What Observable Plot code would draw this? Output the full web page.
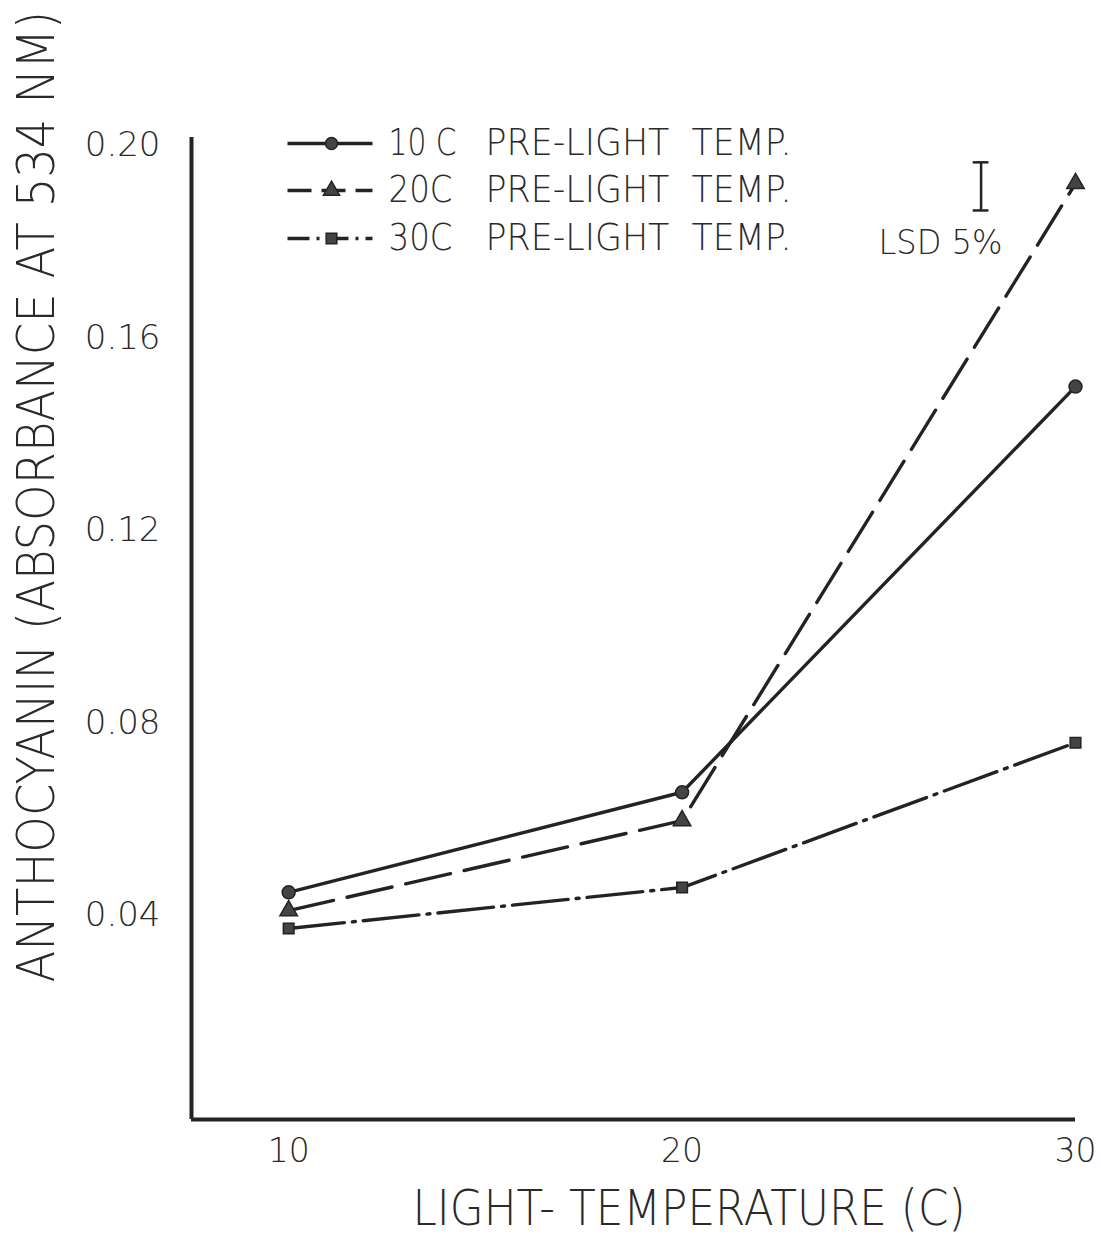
<!DOCTYPE html>
<html>
<head>
<meta charset="utf-8">
<script src="https://cdn.jsdelivr.net/npm/d3@7"></script>
<script src="https://cdn.jsdelivr.net/npm/@observablehq/plot@0.6"></script>
<style>
  html, body { margin: 0; padding: 0; background: #fff; }
  #chart svg { display: block; }
</style>
</head>
<body>
<div id="chart"></div>
<script>
// ---- data ----
const lightTemps = [10, 20, 30];
const seriesNames = ["10 C", "20C", "30C"];
const pre10 = [0.0448, 0.0656, 0.1499];
const pre20 = [0.0410, 0.0597, 0.1921];
const pre30 = [0.0373, 0.0458, 0.0759];
const yTickValues = [0.04, 0.08, 0.12, 0.16, 0.20];
const yTickLabels = ["0.04", "0.08", "0.12", "0.16", "0.20"];
const xTickValues = [10, 20, 30];
const lsdLabel = "LSD 5%";
const lsdValue = 0.010;        // length of LSD bar
const lsdTop = 0.1965;          // top of LSD bar
const lsdAtTemp = 27.6;         // horizontal placement of LSD bar
const yLabel = "ANTHOCYANIN (ABSORBANCE AT 534 NM)";
const xLabel = "LIGHT- TEMPERATURE (C)";
const legendSuffix = "PRE-LIGHT  TEMP.";

// ---- layout ----
const W = 1101, H = 1238;
const mL = 191, mR = 26, mT = 137, mB = 119;
const xDomain = [7.53, 30.0];
const yDomain = [-0.0024, 0.20166];
const ink = "#232323";
const textInk = "#2a2a2a";
const font = "'DejaVu Sans', 'Liberation Sans', sans-serif";

const toRows = (vals, name) => lightTemps.map((t, i) => ({temp: t, value: vals[i], series: name}));
const rows10 = toRows(pre10, seriesNames[0]);
const rows20 = toRows(pre20, seriesNames[1]);
const rows30 = toRows(pre30, seriesNames[2]);

const dash20 = "46 14";
const dash30 = "56 8 3 8";

// pixel -> data helpers for legend placement (layout only)
const px2x = px => xDomain[0] + (px - mL) / (W - mL - mR) * (xDomain[1] - xDomain[0]);
const px2y = py => yDomain[1] - (py - mT) / (H - mT - mB) * (yDomain[1] - yDomain[0]);

const legendRowsPx = [143, 190, 238];
const legend = seriesNames.map((s, i) => ({
  name: s,
  y: px2y(legendRowsPx[i]),
  x1: px2x(287), x2: px2x(372), xm: px2x(331),
  xt: px2x(388), xs: px2x(485)
}));

const symbols = ["circle", "triangle", "square"];
const legendDashes = [null, "24 10", "22 7 3 7"];
const yLabelSize = 52, yLabelLength = 972;

const marks = [
  Plot.ruleX([xDomain[0]], {stroke: ink, strokeWidth: 4}),
  Plot.ruleY([yDomain[0]], {stroke: ink, strokeWidth: 4}),
  Plot.axisY(yTickValues, {tickSize: 0, tickPadding: 31, tickFormat: (d, i) => yTickLabels[i], fontSize: 34, fill: textInk, label: null, className: "yt"}),
  Plot.axisX(xTickValues, {tickSize: 0, tickPadding: 19, fontSize: 33, fill: textInk, label: null, className: "xt"}),
  Plot.line(rows10, {x: "temp", y: "value", stroke: ink, strokeWidth: 3.4}),
  Plot.line(rows20, {x: "temp", y: "value", stroke: ink, strokeWidth: 3.4, strokeDasharray: dash20}),
  Plot.line(rows30, {x: "temp", y: "value", stroke: ink, strokeWidth: 3.4, strokeDasharray: dash30}),
  Plot.dot(rows10, {x: "temp", y: "value", symbol: "circle", r: 6.5, fill: "#444", stroke: ink, strokeWidth: 1.5}),
  Plot.dot(rows20, {x: "temp", y: "value", symbol: "triangle", r: 6.5, fill: "#444", stroke: ink, strokeWidth: 1.5}),
  Plot.dot(rows30, {x: "temp", y: "value", symbol: "square", r: 6, fill: "#444", stroke: ink, strokeWidth: 1.5}),
  // LSD bar
  Plot.ruleX([lsdAtTemp], {y1: lsdTop - lsdValue, y2: lsdTop, stroke: ink, strokeWidth: 2.5}),
  Plot.ruleY([lsdTop - lsdValue, lsdTop], {x1: lsdAtTemp - 0.2, x2: lsdAtTemp + 0.2, stroke: ink, strokeWidth: 2.5}),
  Plot.text([lsdLabel], {x: px2x(878), y: px2y(243), textAnchor: "start", fontSize: 34, fill: textInk, className: "lsd"}),
  // legend
  ...legend.map((d, i) => Plot.link([d], {x1: "x1", x2: "x2", y1: "y", y2: "y", stroke: ink, strokeWidth: 3.4, strokeDasharray: legendDashes[i] ?? undefined})),
  Plot.dot(legend, {x: "xm", y: "y", symbol: (d, i) => symbols[i], r: 6, fill: "#444", stroke: ink, strokeWidth: 1.5}),
  Plot.text(legend, {x: "xt", y: "y", text: "name", textAnchor: "start", fontSize: 37, fill: textInk, className: "legname"}),
  Plot.text(legend, {x: "xs", y: "y", text: () => legendSuffix, textAnchor: "start", fontSize: 37, fill: textInk, className: "legsuf"}),
  // axis titles
  Plot.text([yLabel], {frameAnchor: "left", rotate: -90, textAnchor: "start", lineAnchor: "middle", dx: -154, dy: 354, fontSize: yLabelSize, fill: textInk, className: "ylab"}),
  Plot.text([xLabel], {frameAnchor: "bottom", textAnchor: "start", lineAnchor: "middle", dx: 412 - (mL + (W - mL - mR) / 2), dy: 89, fontSize: 50, fill: textInk, className: "xlab"})
];

const chart = Plot.plot({
  width: W, height: H,
  marginLeft: mL, marginRight: mR, marginTop: mT, marginBottom: mB,
  x: {domain: xDomain},
  y: {domain: yDomain},
  style: {fontFamily: font, background: "#fff", color: textInk, fontWeight: 200},
  marks
});
document.getElementById("chart").appendChild(chart);

const svg = d3.select(chart);
const fit = (sel, len) => svg.selectAll(sel).attr("textLength", len).attr("lengthAdjust", "spacingAndGlyphs");
fit("g.xlab text", 553);
fit("g.legsuf text", 306);
fit("g.lsd text", 124);
svg.selectAll("g.legname text").each(function(d, i) {
  d3.select(this).attr("textLength", i === 0 ? 68 : 64).attr("lengthAdjust", "spacingAndGlyphs");
});
// y title: condensed lettering — shrink the font along the line, stretch it across
svg.selectAll("g.ylab text").each(function() {
  const t = d3.select(this);
  const natural = this.getComputedTextLength();
  const newSize = yLabelSize * yLabelLength / natural;
  t.style("font-size", newSize + "px");
  const tr = t.attr("transform") || "";
  t.attr("transform", tr + ` scale(1, ${yLabelSize / newSize})`);
});
</script>
</body>
</html>
